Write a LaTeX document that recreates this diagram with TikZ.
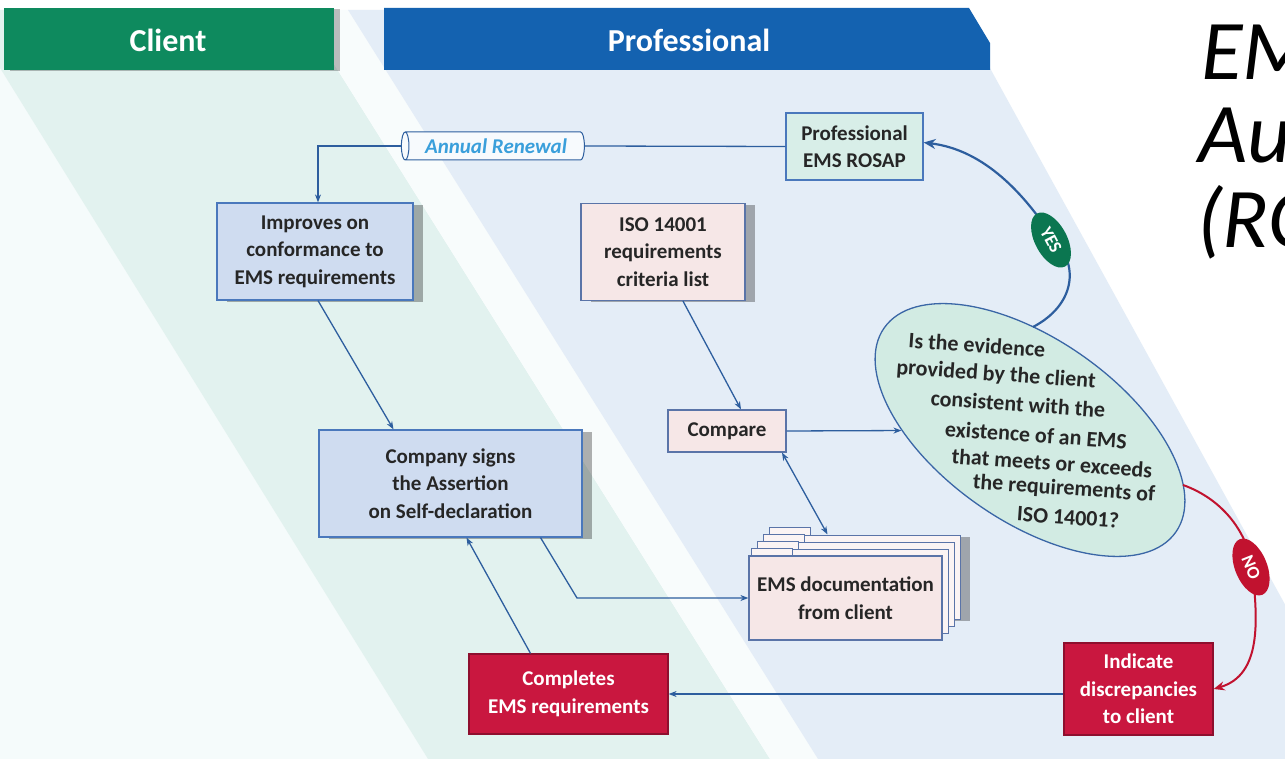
\documentclass[tikz,border=0pt]{standalone}
\usepackage{fontspec}
\setmainfont{Carlito}
\usetikzlibrary{shapes.geometric,arrows.meta,shadows,calc}
\definecolor{bgleft}{HTML}{F5FBFB}
\definecolor{bgclient}{HTML}{E2F2EF}
\definecolor{bgstripe}{HTML}{F8FCFC}
\definecolor{bgprof}{HTML}{E4EDF7}
\definecolor{hgreen}{HTML}{0E8A5E}
\definecolor{hblue}{HTML}{1462B0}
\definecolor{bfill}{HTML}{CFDCF0}
\definecolor{bline}{HTML}{4A78BC}
\definecolor{pfill}{HTML}{F6E7E7}
\definecolor{pline}{HTML}{5A74A8}
\definecolor{gfill}{HTML}{D8EEE8}
\definecolor{efill}{HTML}{D2EBE3}
\definecolor{eline}{HTML}{3A66A6}
\definecolor{rfill}{HTML}{C9173F}
\definecolor{rline}{HTML}{8E0F2E}
\definecolor{conncol}{HTML}{2D5E9E}
\definecolor{yesgreen}{HTML}{0B7650}
\definecolor{nored}{HTML}{C1122F}
\definecolor{renew}{HTML}{3A9FDB}
\definecolor{txt}{HTML}{262626}
\begin{document}
\begin{tikzpicture}[x=1pt,y=-1pt,
  boxbase/.style={draw, line width=1.2pt, align=center, inner sep=0pt, font=\bfseries\fontsize{21}{27.5}\selectfont},
  bluebox/.style={boxbase, fill=bfill, draw=bline, text=txt},
  pinkbox/.style={boxbase, fill=pfill, draw=pline, text=txt},
  redbox/.style={boxbase, fill=rfill, draw=rline, text=white},
  shad/.style={drop shadow={shadow xshift=10pt, shadow yshift=-2pt, opacity=0.3, fill=black}},
  conn/.style={draw=conncol, line width=1.3pt, -{Stealth[length=8pt,width=6pt]}},
  hdrtext/.style={text=white, inner sep=0pt, font=\bfseries\fontsize{32}{36}\selectfont},
  qtext/.style={text=txt, inner sep=0pt, font=\bfseries\fontsize{22}{22}\selectfont, rotate=-4},
  tag/.style={ellipse, text=white, font=\bfseries\fontsize{18}{18}\selectfont, minimum width=60pt, minimum height=32pt, inner sep=0pt},
  titletext/.style={anchor=base west, font=\itshape\fontsize{85}{85}\selectfont, text=black, inner sep=0pt},
  sheet/.style={draw=pline, line width=1pt, fill=white!55!pfill}
]
\useasboundingbox (0,0) rectangle (1285,759);
\fill[white] (0,0) rectangle (1285,759);
% background bands
\fill[bgleft] (0,68) -- (428,759) -- (0,759) -- cycle;
\fill[bgclient] (0,10) -- (300,10) -- (770,759) -- (428,759) -- (0,68) -- cycle;
\fill[bgstripe] (300,10) -- (348,10) -- (818,759) -- (770,759) -- cycle;
\fill[bgprof] (348,10) -- (958,10) -- (1370,759) -- (818,759) -- cycle;
% headers
\fill[hgreen, drop shadow={shadow xshift=6pt, shadow yshift=-1pt, opacity=0.25, fill=black}] (4,8) rectangle (334,70);
\node[hdrtext] (hc) at (168,40) {Client};
\fill[hblue] (384,8) -- (969,8) -- (990,43) -- (990,70) -- (384,70) -- cycle;
\node[hdrtext] (hp) at (689,40) {Professional};
% title
\node[titletext] (t1) at (1201,80) {EM};
\node[titletext] (t2) at (1198,163) {Aud};
\node[titletext] (t3) at (1197,248) {(RO};
% boxes
\node[bluebox, shad, minimum width=196pt, minimum height=97pt] (imp) at (315,251.5) {Improves on\\conformance to\\EMS requirements};
\node[bluebox, shad, minimum width=263pt, minimum height=107pt] (comp) at (450.5,483.5) {Company signs\\the Assertion\\on Self-declaration};
\node[redbox, minimum width=199pt, minimum height=80pt] (cmpl) at (568.5,694) {Completes\\EMS requirements};
\node[pinkbox, shad, minimum width=164pt, minimum height=97pt] (iso) at (663,252) {ISO 14001\\requirements\\criteria list};
\node[boxbase, fill=gfill, draw=bline, text=txt, minimum width=137pt, minimum height=67pt] (rosap) at (854.5,146.5) {Professional\\EMS ROSAP};
\node[pinkbox, minimum width=118pt, minimum height=42pt] (cmp) at (727,431) {Compare};
\node[redbox, minimum width=149pt, minimum height=92pt] (ind) at (1138.5,689) {Indicate\\discrepancies\\to client};
\node[cylinder, shape border rotate=180, aspect=0.4, draw=conncol, line width=1pt, fill=white!70!bgprof, minimum width=28pt, minimum height=183pt, inner sep=2pt, text=renew, font=\bfseries\itshape\fontsize{21}{22}\selectfont] (ren) at (496,146) {Annual Renewal};
% document stack
\draw[sheet, shad] (767,535) rectangle (960,619);
\draw[sheet] (769,527) rectangle (810,535);
\foreach \k in {2,1} {
  \draw[sheet] ({749+6*\k},{556-7*\k}) rectangle ({942+6*\k},{640-7*\k});
  \draw[sheet] ({751+6*\k},{548-7*\k}) rectangle ({792+6*\k},{556-7*\k});
}
\draw[sheet] (751,548) rectangle (792,556);
\node[pinkbox, minimum width=193pt, minimum height=84pt] (docs) at (845.5,598) {EMS documentation\\from client};
\coordinate (dtop) at ($(docs.north)+(-18,-21)$);
% decision ellipse
\node[ellipse, draw=eline, line width=1.3pt, fill=efill, minimum width=356pt, minimum height=182pt, rotate=-35, inner sep=0pt] (q) at (1030,430) {};
\node[qtext] (q1) at (977,345) {Is the evidence};
\node[qtext] (q2) at (996,375) {provided by the client};
\node[qtext] (q3) at (1018,404) {consistent with the};
\node[qtext] (q4) at (1036,435) {existence of an EMS};
\node[qtext] (q5) at (1052,463) {that meets or exceeds};
\node[qtext] (q6) at (1064,489) {the requirements of};
\node[qtext] (q7) at (1068,517) {ISO 14001?};
% connectors
\draw[draw=conncol, line width=1.3pt] (rosap.west) -- (ren.east);
\draw[conn] (ren.west) -| ([xshift=3pt]imp.north);
\draw[conn] ([xshift=3pt]imp.south) -- ([xshift=-57pt]comp.north);
\coordinate (b1) at (577,598);
\draw[conn] ([xshift=90pt]comp.south) -- (b1) -- (docs.west);
\draw[conn] ([xshift=-38pt]cmpl.north) -- ([xshift=16pt]comp.south);
\draw[conn] ([xshift=20pt]iso.south) -- ([xshift=14pt]cmp.north);
\draw[conn] (cmp.east) -- (q);
\draw[conn, {Stealth[length=8pt,width=6pt]}-{Stealth[length=8pt,width=6pt]}] ([xshift=55pt]cmp.south) -- (dtop);
\draw[conn] (ind.west |- cmpl.east) -- (cmpl.east);
\coordinate (qy) at (1033,327);
\draw[draw=conncol, line width=2.2pt, -{Stealth[length=12pt,width=10pt]}] (qy) .. controls (1075,305) and (1080,265) .. (1053,238) .. controls (1025,195) and (985,150) .. ([yshift=4pt]rosap.east);
\coordinate (qn) at (1183,485);
\draw[draw=nored, line width=2pt, -{Stealth[length=11pt,width=9pt]}] (qn) .. controls (1225,500) and (1248,535) .. (1252,567) .. controls (1258,620) and (1262,675) .. (ind.east);
\node[tag, fill=yesgreen, rotate=-62] (yes) at (1051,240) {YES};
\node[tag, fill=nored, rotate=-68] (no) at (1251,567) {NO};
\end{tikzpicture}
\end{document}
